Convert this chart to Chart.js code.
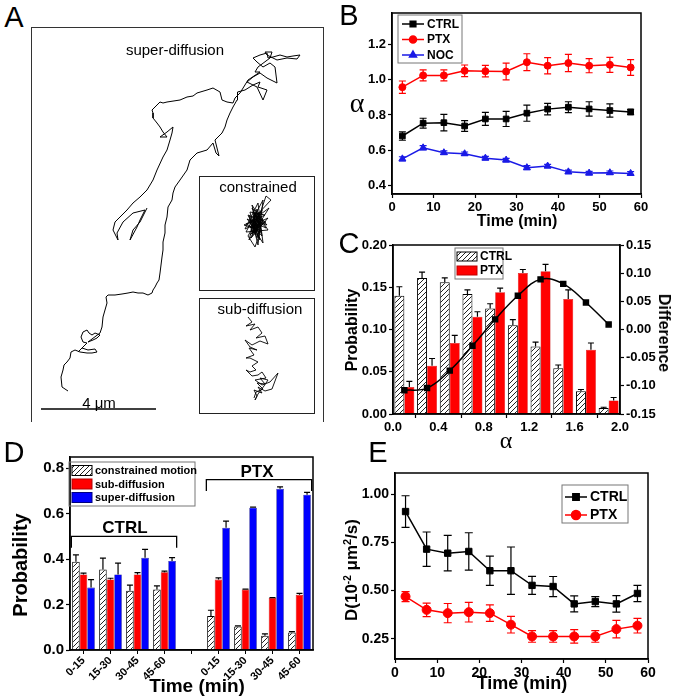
<!DOCTYPE html>
<html>
<head>
<meta charset="utf-8">
<script src="https://cdn.jsdelivr.net/npm/chart.js@4.4.0/dist/chart.umd.min.js"></script>
<style>
  body { margin: 0; background: #fff; width: 675px; height: 698px; position: relative; overflow: hidden;
         font-family: "Liberation Sans", Arial, sans-serif; }
  canvas { position: absolute; }
  .t { position: absolute; white-space: nowrap; color: #000; line-height: 1; }
  .box { position: absolute; box-sizing: border-box; }
</style>
</head>
<body>
<canvas id="pa" width="292" height="391" style="left:31px;top:27px"></canvas>
<canvas id="pb" width="325" height="232" style="left:350px;top:0px"></canvas>
<canvas id="pc" width="325" height="224" style="left:350px;top:228px"></canvas>
<canvas id="pd" width="340" height="258" style="left:0px;top:440px"></canvas>
<canvas id="pe" width="340" height="258" style="left:335px;top:440px"></canvas>
<script>
// ---------- data ----------
// A: trajectories (image position units)
const trajSuper = [[68,391],[62,387],[61,377],[63,370],[64,365],[67,362],[70,358],[71,352],[75,350],[80,352],[87,353],[92,353],[97,352],[95,349],[88,350],[82,348],[78,352],[83,347],[87,343],[83,342],[81,337],[83,332],[87,330],[89,333],[92,335],[95,333],[100,335],[97,338],[93,340],[88,342],[100,333],[102,327],[103,317],[105,310],[107,303],[106,297],[108,295],[115,295],[122,294],[128,293],[133,292],[138,293],[143,293],[148,295],[152,293],[153,290],[155,287],[157,283],[159,280],
  [160,273],[161,265],[162,257],[163,250],[163,242],[165,233],[165,225],[167,217],[168,207],[172,200],[173,193],[175,187],[180,180],[187,170],[190,160],[197,153],[207,150],[213,143],[216,153],[219,156],[215,140],[222,133],[225,127],[227,120],[230,113],[233,107],[237,100],[238,97],
  [237,92],[245,90],[253,85],[260,82],[258,87],[267,90],[263,100],[257,87],[247,82],[253,77],[260,73],[267,78],[277,83],[275,67],[270,63],[263,67],[257,62],[253,58],[260,55],[267,53],[268,58],[273,57],[280,55],[287,57],[293,56],[300,55],[297,59],[287,58],[277,60],[267,55],[265,52],[272,52],[270,58],[258,67],[255,72],[260,72],[248,80],[240,93],
  [235,98],[233,103],[227,102],[222,100],[220,92],[213,88],[207,90],[197,93],[193,96],[187,97],[180,100],[167,102],[163,103],[160,102],[157,105],[152,110],[153,113],[153,118],[157,123],[160,127],[163,132],[167,137],[160,137],[167,132],[173,127],[172,133],[170,140],[167,150],[163,157],[157,170],[153,180],[147,190],[140,197],[133,203],[127,210],[120,217],[115,222],[113,230],[118,240],[117,233],[123,222],[133,213],[145,210],[140,220],[137,227],[130,240],[133,230],[140,222],[145,212],[147,208]];
const trajConstrained = [[255,235],[262,210],[250,228],[266,222],[248,215],[260,240],[252,205],[268,230],[246,232],[263,200],[258,245],[250,212],[265,215],[244,225],[259,230],[253,220],[269,208],[249,240],[257,209],[262,236],[247,219],[266,228],[254,213],[260,224],[251,238],[268,218],[245,229],[258,203],[263,243],[250,223],[256,216],[271,200],[266,196],[260,214],[248,236],[255,247],[261,230],[252,208],[267,225],[249,216],[257,238],[263,219],[246,224],[254,228],[259,212],[253,233],
  [256,221],[251,226],[259,218],[253,231],[258,225],[250,219],[261,227],[255,214],[252,234],[260,221],[254,225],[257,231],[249,222],[262,217],[253,216],[258,236],[251,230],[256,212],[260,233],[252,224],[259,228],[254,219],[257,227],[250,235],[263,224],[255,229],[253,211],[261,220]];
const trajSub = [[248,317],[252,322],[246,326],[255,324],[250,330],[258,327],[262,333],[256,338],[265,336],[268,344],[260,341],[252,345],[245,340],[250,347],[257,350],[249,348],[254,355],[246,358],[250,358],[258,362],[252,366],[256,370],[250,372],[246,370],[252,376],[258,375],[262,372],[266,378],[255,380],[262,385],[270,382],[278,373],[272,389],[265,391],[258,387],[262,393],[254,390],[257,396],[255,400],
  [258,394],[264,386],[268,380],[260,378],[265,384],[257,383],[263,389],[256,392],[254,398]];
const scaleBarX = [41, 156];
const scaleBarY = [409, 409];

// B: alpha vs time
const timePoints = [2.5, 7.5, 12.5, 17.5, 22.5, 27.5, 32.5, 37.5, 42.5, 47.5, 52.5, 57.5];
const bCtrl    = [0.68, 0.753, 0.756, 0.737, 0.777, 0.777, 0.81, 0.833, 0.844, 0.834, 0.825, 0.817];
const bCtrlErr = [0.024, 0.028, 0.047, 0.031, 0.037, 0.043, 0.046, 0.033, 0.031, 0.041, 0.038, 0.015];
const bPtx     = [0.958, 1.025, 1.025, 1.051, 1.049, 1.047, 1.10, 1.08, 1.095, 1.08, 1.085, 1.07];
const bPtxErr  = [0.035, 0.031, 0.031, 0.033, 0.033, 0.048, 0.048, 0.046, 0.049, 0.04, 0.043, 0.045];
const bNoc     = [0.55, 0.613, 0.585, 0.579, 0.554, 0.543, 0.50, 0.509, 0.476, 0.469, 0.471, 0.467];
const bNocErr  = [0.012, 0.012, 0.01, 0.01, 0.01, 0.01, 0.012, 0.01, 0.01, 0.01, 0.01, 0.01];
const bTimeTicks = [0, 10, 20, 30, 40, 50, 60];
const bAlphaTicks = [0.4, 0.6, 0.8, 1.0, 1.2];

// C: alpha distribution
const alphaBins   = [0.1, 0.3, 0.5, 0.7, 0.9, 1.1, 1.3, 1.5, 1.7, 1.9];
const cCtrl       = [0.140, 0.161, 0.156, 0.142, 0.125, 0.105, 0.080, 0.054, 0.027, 0.007];
const cCtrlErr    = [0.0106, 0.007, 0.005, 0.005, 0.0055, 0.0067, 0.005, 0.004, 0.002, 0.001];
const cPtx        = [0.032, 0.057, 0.084, 0.115, 0.144, 0.167, 0.169, 0.136, 0.076, 0.016];
const cPtxErr     = [0.0067, 0.0087, 0.009, 0.006, 0.005, 0.004, 0.008, 0.011, 0.008, 0.0035];
const cDifference = [-0.108, -0.104, -0.073, -0.029, 0.018, 0.060, 0.089, 0.081, 0.048, 0.009];
const cAlphaTicks = [0.0, 0.4, 0.8, 1.2, 1.6, 2.0];
const cProbTicks  = [0.00, 0.05, 0.10, 0.15, 0.20];
const cDiffTicks  = [-0.15, -0.10, -0.05, 0.00, 0.05, 0.10, 0.15];

// D: motion type probability
const periods = ['0-15', '15-30', '30-45', '45-60'];
const dCtrlConstrained    = [0.389, 0.355, 0.261, 0.267];
const dCtrlConstrainedErr = [0.03, 0.05, 0.025, 0.015];
const dCtrlSub            = [0.333, 0.311, 0.333, 0.342];
const dCtrlSubErr         = [0.006, 0.005, 0.008, 0.005];
const dCtrlSuper          = [0.275, 0.333, 0.406, 0.392];
const dCtrlSuperErr       = [0.035, 0.05, 0.037, 0.015];
const dPtxConstrained     = [0.150, 0.104, 0.063, 0.077];
const dPtxConstrainedErr  = [0.025, 0.002, 0.008, 0.004];
const dPtxSub             = [0.310, 0.266, 0.229, 0.243];
const dPtxSubErr          = [0.008, 0.002, 0.002, 0.006];
const dPtxSuper           = [0.538, 0.627, 0.710, 0.684];
const dPtxSuperErr        = [0.03, 0.002, 0.008, 0.01];
const dProbTicks = [0.0, 0.2, 0.4, 0.6, 0.8];

// E: diffusion coefficient
const eCtrl    = [0.91, 0.715, 0.694, 0.703, 0.603, 0.603, 0.527, 0.521, 0.431, 0.443, 0.431, 0.485];
const eCtrlErr = [0.082, 0.089, 0.092, 0.097, 0.076, 0.123, 0.047, 0.052, 0.042, 0.026, 0.043, 0.042];
const ePtx     = [0.469, 0.40, 0.383, 0.388, 0.383, 0.323, 0.262, 0.262, 0.262, 0.262, 0.30, 0.318];
const ePtxErr  = [0.026, 0.035, 0.05, 0.051, 0.043, 0.043, 0.03, 0.03, 0.035, 0.03, 0.045, 0.038];
const eDTicks  = [0.25, 0.50, 0.75, 1.00];

// ---------- helpers ----------
const FONT = '"Liberation Sans", Arial, sans-serif';
const RED = '#ff0000', BLUE = '#0000ff', BLUE_B = '#1a1ae6';
const bold = size => ({ family: FONT, size: size, weight: 'bold' });
const pairs = (xs, ys) => xs.map((x, i) => ({ x: x, y: ys[i] }));
const setTicks = vals => s => { s.ticks = vals.map(v => ({ value: v })); };

function hatch() {
  const c = document.createElement('canvas');
  c.width = 5; c.height = 5;
  const g = c.getContext('2d');
  g.fillStyle = '#fff'; g.fillRect(0, 0, 5, 5);
  g.strokeStyle = '#222'; g.lineWidth = 1;
  g.beginPath();
  g.moveTo(-1, 6); g.lineTo(6, -1);
  g.moveTo(-1, 1); g.lineTo(1, -1);
  g.moveTo(4, 6); g.lineTo(6, 4);
  g.stroke();
  return g.createPattern(c, 'repeat');
}
const HATCH = hatch();

function addText(html, x, y, css, rot) {
  const d = document.createElement('div');
  d.className = 't';
  d.innerHTML = html;
  d.style.cssText += css;
  d.style.left = x + 'px'; d.style.top = y + 'px';
  d.style.transform = 'translate(-50%,-50%)' + (rot ? ' rotate(' + rot + 'deg)' : '');
  document.body.appendChild(d);
}
function addBox(x, y, w, h, css) {
  const d = document.createElement('div');
  d.className = 'box';
  d.style.cssText = 'left:' + x + 'px;top:' + y + 'px;width:' + w + 'px;height:' + h + 'px;' + css;
  document.body.appendChild(d);
}

const frame = {
  id: 'frame',
  afterDraw(chart) {
    const a = chart.chartArea, ctx = chart.ctx;
    ctx.save(); ctx.strokeStyle = '#000'; ctx.lineWidth = 1.5;
    ctx.strokeRect(a.left, a.top, a.right - a.left, a.bottom - a.top);
    ctx.restore();
  }
};

const errorBars = {
  id: 'errorBars',
  afterDatasetsDraw(chart) {
    const ctx = chart.ctx;
    chart.data.datasets.forEach((ds, di) => {
      if (!ds.errors) return;
      const meta = chart.getDatasetMeta(di);
      const ys = chart.scales[meta.yAxisID];
      ctx.save();
      ctx.strokeStyle = ds.errColor || ds.borderColor;
      ctx.lineWidth = 1.2;
      meta.data.forEach((el, i) => {
        const raw = ds.data[i];
        const v = raw !== null && typeof raw === 'object' ? raw.y : raw;
        const e = ds.errors[i];
        if (v == null || e == null) return;
        const top = ys.getPixelForValue(v + e);
        const bot = ds.upOnly ? ys.getPixelForValue(v) : ys.getPixelForValue(v - e);
        const cw = ds.capWidth || 3;
        ctx.beginPath();
        ctx.moveTo(el.x, top); ctx.lineTo(el.x, bot);
        ctx.moveTo(el.x - cw, top); ctx.lineTo(el.x + cw, top);
        if (!ds.upOnly) { ctx.moveTo(el.x - cw, bot); ctx.lineTo(el.x + cw, bot); }
        ctx.stroke();
      });
      ctx.restore();
    });
  }
};

// legend drawn inside the plot: items with type 'line' or 'box'
function boxLegend(cfg) {
  return {
    id: 'boxLegend',
    afterDraw(chart) {
      const ctx = chart.ctx;
      ctx.save();
      ctx.strokeStyle = '#777'; ctx.lineWidth = 1;
      ctx.strokeRect(cfg.x, cfg.y, cfg.w, cfg.h);
      ctx.font = 'bold ' + cfg.size + 'px ' + FONT;
      ctx.textBaseline = 'middle';
      chart.data.datasets.forEach((ds, i) => {
        if (ds.noLegend) return;
        const y = cfg.y + cfg.first + i * cfg.step;
        const sx = cfg.x + cfg.pad;
        if (cfg.type === 'line') {
          ctx.strokeStyle = ds.borderColor; ctx.lineWidth = 1.5;
          ctx.beginPath(); ctx.moveTo(sx, y); ctx.lineTo(sx + cfg.sw, y); ctx.stroke();
          ctx.fillStyle = ds.backgroundColor;
          Chart.helpers.drawPoint(ctx, { pointStyle: ds.pointStyle, radius: ds.pointRadius, borderWidth: 1 }, sx + cfg.sw / 2, y);
        } else {
          ctx.fillStyle = ds.backgroundColor;
          ctx.fillRect(sx, y - cfg.sh / 2, cfg.sw, cfg.sh);
          ctx.strokeStyle = ds.borderColor; ctx.lineWidth = 1;
          ctx.strokeRect(sx, y - cfg.sh / 2, cfg.sw, cfg.sh);
        }
        ctx.fillStyle = '#000';
        ctx.fillText(ds.label, sx + cfg.sw + 3, y + 0.5);
      });
      ctx.restore();
    }
  };
}

function linAxis(o) {
  return {
    type: 'linear',
    position: o.position || (o.x ? 'bottom' : 'left'),
    min: o.min, max: o.max,
    offset: false,
    afterBuildTicks: setTicks(o.ticks),
    afterFit: s => { if (o.x) s.height = o.size; else s.width = o.size; },
    grid: { display: true, drawOnChartArea: false, color: '#000', tickLength: 4, tickWidth: 1.2 },
    border: { color: '#000', width: 1.5 },
    ticks: { color: '#000', font: bold(o.font), padding: 2, maxRotation: 0, autoSkip: false,
             callback: v => v.toFixed(o.digits) }
  };
}

const baseOpts = {
  responsive: false, animation: false, devicePixelRatio: 1,
  plugins: { legend: { display: false }, tooltip: { enabled: false } }
};

// ---------- A ----------
const toXY = arr => arr.map(p => ({ x: p[0], y: p[1] }));
new Chart(document.getElementById('pa'), {
  type: 'scatter',
  data: { datasets: [
    { data: toXY(trajSuper), showLine: true, borderColor: '#000', borderWidth: 1, pointRadius: 0 },
    { data: toXY(trajConstrained), showLine: true, borderColor: '#000', borderWidth: 0.9, pointRadius: 0 },
    { data: toXY(trajSub), showLine: true, borderColor: '#000', borderWidth: 0.9, pointRadius: 0 },
    { data: pairs(scaleBarX, scaleBarY), showLine: true, borderColor: '#000', borderWidth: 1.5, pointRadius: 0 }
  ]},
  options: Object.assign({}, baseOpts, {
    layout: { padding: 0 },
    scales: {
      x: { type: 'linear', display: false, min: 31, max: 323 },
      y: { type: 'linear', display: false, min: 27, max: 418, reverse: true }
    }
  })
});
addBox(31, 27, 293, 395, 'border:1px solid #333;border-bottom:none');
addBox(199, 176, 116, 115, 'border:1.5px solid #222');
addBox(199, 298, 116, 116, 'border:1.5px solid #222');
addText('super-diffusion', 175, 49, 'font-size:15px');
addText('constrained', 258, 186, 'font-size:15px');
addText('sub-diffusion', 260, 308, 'font-size:15px');
addText('4 μm', 99, 402, 'font-size:15px');

// ---------- B ----------
function lineSet(label, ys, errs, color, style, radius) {
  return { label: label, data: pairs(timePoints, ys), errors: errs, borderColor: color, backgroundColor: color,
           pointStyle: style, pointRadius: radius, borderWidth: 1.5, pointBorderWidth: 1, capWidth: 3.5 };
}
new Chart(document.getElementById('pb'), {
  type: 'line',
  data: { datasets: [
    lineSet('CTRL', bCtrl, bCtrlErr, '#000', 'rect', 4),
    lineSet('PTX', bPtx, bPtxErr, RED, 'circle', 3.5),
    lineSet('NOC', bNoc, bNocErr, BLUE_B, 'triangle', 4)
  ]},
  options: Object.assign({}, baseOpts, {
    layout: { padding: { top: 13, right: 34, left: 0, bottom: 0 } },
    scales: {
      x: linAxis({ x: true, min: 0, max: 60, ticks: bTimeTicks, size: 38, font: 13, digits: 0 }),
      y: linAxis({ min: 0.35, max: 1.38, ticks: bAlphaTicks, size: 42, font: 13, digits: 1 })
    }
  }),
  plugins: [frame, errorBars, boxLegend({ x: 48, y: 15, w: 64, h: 48, first: 9, step: 15.5, pad: 4, sw: 22, size: 12, type: 'line' })]
});
addText('α', 357, 103, 'font-family:\"Liberation Serif\",serif;font-size:28px');
addText('Time (min)', 517, 221, 'font-size:16px;font-weight:bold');

// ---------- C ----------
new Chart(document.getElementById('pc'), {
  type: 'bar',
  data: { datasets: [
    { label: 'CTRL', data: pairs(alphaBins, cCtrl), errors: cCtrlErr, upOnly: true, capWidth: 3,
      backgroundColor: HATCH, borderColor: '#000', borderWidth: 1, errColor: '#000',
      categoryPercentage: 0.88, barPercentage: 1, order: 2 },
    { label: 'PTX', data: pairs(alphaBins, cPtx), errors: cPtxErr, upOnly: true, capWidth: 3,
      backgroundColor: RED, borderColor: '#c00000', borderWidth: 0.5, errColor: '#000',
      categoryPercentage: 0.88, barPercentage: 1, order: 2 },
    { type: 'line', label: 'Difference', noLegend: true, yAxisID: 'y2', data: pairs(alphaBins, cDifference),
      borderColor: '#000', backgroundColor: '#000', borderWidth: 1.5, pointStyle: 'rect', pointRadius: 3.5,
      tension: 0.4, order: 1 }
  ]},
  options: Object.assign({}, baseOpts, {
    layout: { padding: { top: 17, right: 0, left: 0, bottom: 0 } },
    scales: {
      x: linAxis({ x: true, min: 0, max: 2, ticks: cAlphaTicks, size: 38, font: 13, digits: 1 }),
      y: linAxis({ min: 0, max: 0.2, ticks: cProbTicks, size: 43, font: 13, digits: 2 }),
      y2: linAxis({ position: 'right', min: -0.15, max: 0.15, ticks: cDiffTicks, size: 55, font: 13, digits: 2 })
    }
  }),
  plugins: [frame, errorBars, boxLegend({ x: 105, y: 20, w: 48, h: 31, first: 8.5, step: 14, pad: 2, sw: 20, sh: 9, size: 12, type: 'box' })]
});
addText('Probability', 352, 330, 'font-size:16px;font-weight:bold', -90);
addText('Difference', 664, 333, 'font-size:16px;font-weight:bold', 90);
addText('α', 506, 440, 'font-family:\"Liberation Serif\",serif;font-size:24px');

// ---------- D ----------
const dLabels = periods.concat([''], periods);
const joinGroups = (a, b) => a.concat([null], b);
new Chart(document.getElementById('pd'), {
  type: 'bar',
  data: { labels: dLabels, datasets: [
    { label: 'constrained motion', data: joinGroups(dCtrlConstrained, dPtxConstrained),
      errors: joinGroups(dCtrlConstrainedErr, dPtxConstrainedErr), upOnly: true, capWidth: 3,
      backgroundColor: HATCH, borderColor: '#000', borderWidth: 1, errColor: '#000' },
    { label: 'sub-diffusion', data: joinGroups(dCtrlSub, dPtxSub),
      errors: joinGroups(dCtrlSubErr, dPtxSubErr), upOnly: true, capWidth: 3,
      backgroundColor: RED, borderColor: '#b00000', borderWidth: 0.6, errColor: '#000' },
    { label: 'super-diffusion', data: joinGroups(dCtrlSuper, dPtxSuper),
      errors: joinGroups(dCtrlSuperErr, dPtxSuperErr), upOnly: true, capWidth: 3,
      backgroundColor: BLUE, borderColor: '#000080', borderWidth: 0.6, errColor: '#000' }
  ]},
  options: Object.assign({}, baseOpts, {
    datasets: { bar: { categoryPercentage: 0.84, barPercentage: 1 } },
    layout: { padding: { top: 17, right: 27, left: 0, bottom: 0 } },
    scales: {
      x: {
        type: 'category', afterFit: s => { s.height = 48; },
        grid: { display: true, drawOnChartArea: false, color: '#000', tickLength: 4, offset: false },
        border: { color: '#000', width: 1.5 },
        ticks: { color: '#000', font: bold(11), autoSkip: false, minRotation: 45, maxRotation: 45, padding: 0 }
      },
      y: linAxis({ min: 0, max: 0.85, ticks: dProbTicks, size: 70, font: 15, digits: 1 })
    }
  }),
  plugins: [frame, errorBars,
    boxLegend({ x: 69, y: 22, w: 126, h: 44, first: 8.5, step: 13.5, pad: 3, sw: 20, sh: 10, size: 11, type: 'box' }),
    { id: 'brackets', afterDraw(chart) {
        const ctx = chart.ctx, xs = chart.scales.x, ys = chart.scales.y;
        const half = xs.getPixelForValue(1) - xs.getPixelForValue(0);
        const groups = [[0, 3, 0.50, 0.45], [5, 8, 0.75, 0.70]];
        ctx.save(); ctx.strokeStyle = '#000'; ctx.lineWidth = 1.3;
        groups.forEach(g => {
          const l = xs.getPixelForValue(g[0]) - half * 0.45, r = xs.getPixelForValue(g[1]) + half * 0.45;
          const y = ys.getPixelForValue(g[2]), y2 = ys.getPixelForValue(g[3]);
          ctx.beginPath(); ctx.moveTo(l, y2); ctx.lineTo(l, y); ctx.lineTo(r, y); ctx.lineTo(r, y2); ctx.stroke();
        });
        ctx.restore();
    } }]
});
addText('Probability', 20, 565, 'font-size:20px;font-weight:bold', -90);
addText('Time (min)', 197, 685, 'font-size:19px;font-weight:bold');
addText('CTRL', 125, 527, 'font-size:17px;font-weight:bold');
addText('PTX', 257, 471, 'font-size:17px;font-weight:bold');

// ---------- E ----------
new Chart(document.getElementById('pe'), {
  type: 'line',
  data: { datasets: [
    Object.assign(lineSet('CTRL', eCtrl, eCtrlErr, '#000', 'rect', 4.5), { capWidth: 4 }),
    Object.assign(lineSet('PTX', ePtx, ePtxErr, RED, 'circle', 4.5), { capWidth: 4 })
  ]},
  options: Object.assign({}, baseOpts, {
    layout: { padding: { top: 33, right: 27, left: 0, bottom: 0 } },
    scales: {
      x: linAxis({ x: true, min: 0, max: 60, ticks: bTimeTicks, size: 39, font: 14, digits: 0 }),
      y: linAxis({ min: 0.145, max: 1.11, ticks: eDTicks, size: 60, font: 14, digits: 2 })
    }
  }),
  plugins: [frame, errorBars, boxLegend({ x: 227, y: 45, w: 66, h: 38, first: 12, step: 18, pad: 3, sw: 22, size: 14, type: 'line' })]
});
addText('D(10<sup style="font-size:10px">-2</sup> μm<sup style="font-size:11px">2</sup>/s)', 351, 570, 'font-size:17px;font-weight:bold', -90);
addText('Time (min)', 522, 683, 'font-size:18px;font-weight:bold');

// panel letters
addText('A', 14, 17, 'font-size:29px');
addText('B', 349, 15, 'font-size:29px');
addText('C', 349, 243, 'font-size:29px');
addText('D', 14, 452, 'font-size:29px');
addText('E', 378, 452, 'font-size:29px');
</script>
</body>
</html>
